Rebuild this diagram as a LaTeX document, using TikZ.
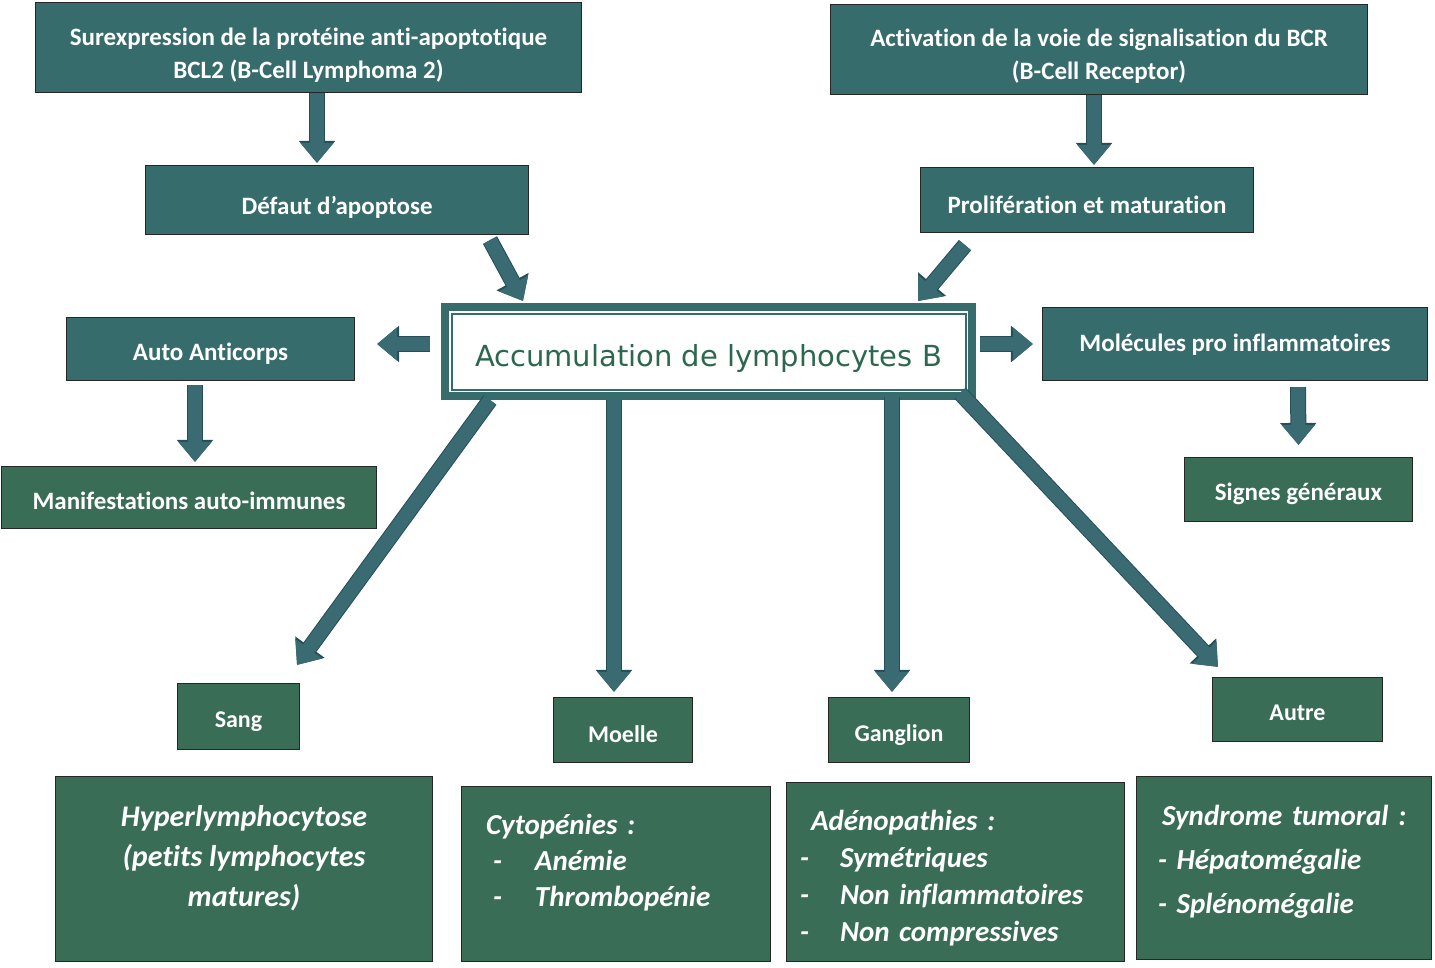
\documentclass[tikz,border=0pt]{standalone}
\usepackage{fontspec}
\setmainfont{Carlito}[Ligatures=NoCommon]
\newfontfamily\centrefont{DejaVu Sans}
\usetikzlibrary{arrows.meta}
\definecolor{boxteal}{RGB}{55,108,108}
\definecolor{boxgreen}{RGB}{57,109,86}
\definecolor{arrowfill}{RGB}{58,107,114}
\definecolor{arrowline}{RGB}{38,78,88}
\definecolor{centretext}{RGB}{44,104,80}
\tikzstyle{tealbox} = [rectangle, draw=black!85, line width=1.2pt, fill=boxteal, text=white, font=\bfseries\fontsize{25}{33}\selectfont, align=center, inner sep=2pt, text height=28pt, text depth=6pt]
\tikzstyle{greenbox} = [tealbox, fill=boxgreen]
\tikzstyle{sitebox} = [greenbox, font=\bfseries\fontsize{24}{30}\selectfont]
\tikzstyle{listbox} = [greenbox, font=\bfseries\itshape\fontsize{29}{37}\selectfont, text height=22pt]
\tikzstyle{fat} = [draw=arrowfill, line width=14pt, -{Triangle[length=20pt,width=32pt]}, preaction={draw=arrowline, line width=16pt, -{Triangle[length=22pt,width=35pt]}}]

\begin{document}
\begin{tikzpicture}[x=1pt,y=-1pt]
	\useasboundingbox (0,0) rectangle (1435,967);

	%causes
	\node[tealbox, minimum width=546pt, minimum height=90pt, text height=67pt, text depth=6pt] (surexp) at (308.5,47.5) {Surexpression de la protéine anti-apoptotique\\BCL2 (B-Cell Lymphoma 2)};
	\node[tealbox, minimum width=537pt, minimum height=90pt, text height=65pt, text depth=6pt] (activ) at (1099,49.5) {Activation de la voie de signalisation du BCR\\(B-Cell Receptor)};
	\node[tealbox, minimum width=383pt, minimum height=69pt, text height=34pt] (defaut) at (337,200) {Défaut d’apoptose};
	\node[tealbox, minimum width=333pt, minimum height=65pt, text height=32pt] (prolif) at (1087,200) {Prolifération et maturation};

	%centre
	\node[draw=boxteal, line width=8pt, fill=white, minimum width=527pt, minimum height=89pt, text=centretext, font=\centrefont\fontsize{29}{32}\selectfont, text height=36pt, text depth=7pt] (accum) at (708.5,351.5) {Accumulation de lymphocytes B};
	\draw[boxteal, line width=2pt] ([shift={(10.5pt,-10.5pt)}]accum.north west) rectangle ([shift={(-10.5pt,10.5pt)}]accum.south east);

	%side effects
	\node[tealbox, minimum width=288pt, minimum height=63pt] (auto) at (210.5,349) {Auto Anticorps};
	\node[greenbox, minimum width=375pt, minimum height=62pt, text height=30pt] (manif) at (189,497.5) {Manifestations auto-immunes};
	\node[tealbox, minimum width=385pt, minimum height=73pt, text height=20pt] (molec) at (1235,344) {Molécules pro inflammatoires};
	\node[greenbox, minimum width=228pt, minimum height=64pt] (signes) at (1298.5,489.5) {Signes généraux};

	%sites
	\node[sitebox, minimum width=122pt, minimum height=66pt] (sang) at (238.5,716.5) {Sang};
	\node[sitebox, minimum width=139pt, minimum height=65pt, text height=30pt] (moelle) at (623,730) {Moelle};
	\node[sitebox, minimum width=141pt, minimum height=65pt] (ganglion) at (899,730) {Ganglion};
	\node[sitebox, minimum width=170pt, minimum height=64pt] (autre) at (1297.5,709.5) {Autre};

	%signs
	\node[listbox, minimum width=377pt, minimum height=185pt, font=\bfseries\itshape\fontsize{30}{40}\selectfont, text height=81pt, text depth=7pt] (hyper) at (244,869) {Hyperlymphocytose\\(petits lymphocytes\\matures)};
	\node[listbox, minimum width=309pt, minimum height=175pt, text width=260pt, align=left, font=\bfseries\itshape\fontsize{29}{36}\selectfont, text depth=102pt] (cyto) at (616,874) {Cytopénies :\\\makebox[49pt][l]{\hspace{7pt}-}Anémie\\\makebox[49pt][l]{\hspace{7pt}-}Thrombopénie};
	\node[listbox, minimum width=338pt, minimum height=179pt, text width=311pt, align=left, text depth=106pt] (adeno) at (955.5,872) {\hspace{11pt}Adénopathies :\\\makebox[40pt][l]{-}Symétriques\\\makebox[40pt][l]{-}Non inflammatoires\\\makebox[40pt][l]{-}Non compressives};
	\node[listbox, minimum width=295pt, minimum height=183pt, text width=252pt, align=left, font=\bfseries\itshape\fontsize{29}{44}\selectfont, text depth=108pt] (syndr) at (1284,868) {\hspace{4pt}Syndrome tumoral :\\- Hépatomégalie\\- Splénomégalie};

	%arrows
	\draw[fat] ([xshift=8.5pt]surexp.south) -- ([xshift=-20pt,yshift=2pt]defaut.north);
	\draw[fat] ([xshift=-5pt]activ.south) -- ([xshift=7pt,yshift=2pt]prolif.north);
	\draw[fat] ([xshift=153pt,yshift=-5pt]defaut.south) -- ([xshift=-185.5pt,yshift=2pt]accum.north);
	\draw[fat] ([xshift=-122pt,yshift=-12pt]prolif.south) -- ([xshift=209.5pt,yshift=2pt]accum.north);
	\draw[fat] ([xshift=-11pt,yshift=7.5pt]accum.west) -- ([xshift=22pt,yshift=5pt]auto.east);
	\draw[fat] ([xshift=4pt,yshift=7.5pt]accum.east) -- ([xshift=-9pt]molec.west);
	\draw[fat] ([xshift=-15.5pt,yshift=-4pt]auto.south) -- ([xshift=6pt,yshift=4pt]manif.north);
	\draw[fat] ([xshift=63pt,yshift=-6pt]molec.south) -- ([yshift=12pt]signes.north);

	\draw[fat] ([xshift=-218.5pt]accum.south) -- ([xshift=58.5pt,yshift=18pt]sang.north);
	\draw[fat] ([xshift=-94.5pt]accum.south) -- ([xshift=-9pt,yshift=5pt]moelle.north);
	\draw[fat] ([xshift=183.5pt,yshift=3pt]accum.south) -- ([xshift=-7pt,yshift=5pt]ganglion.north);
	\draw[fat] ([xshift=251.5pt,yshift=7pt]accum.south) -- ([xshift=-79.5pt,yshift=10pt]autre.north);

\end{tikzpicture}
\end{document}
